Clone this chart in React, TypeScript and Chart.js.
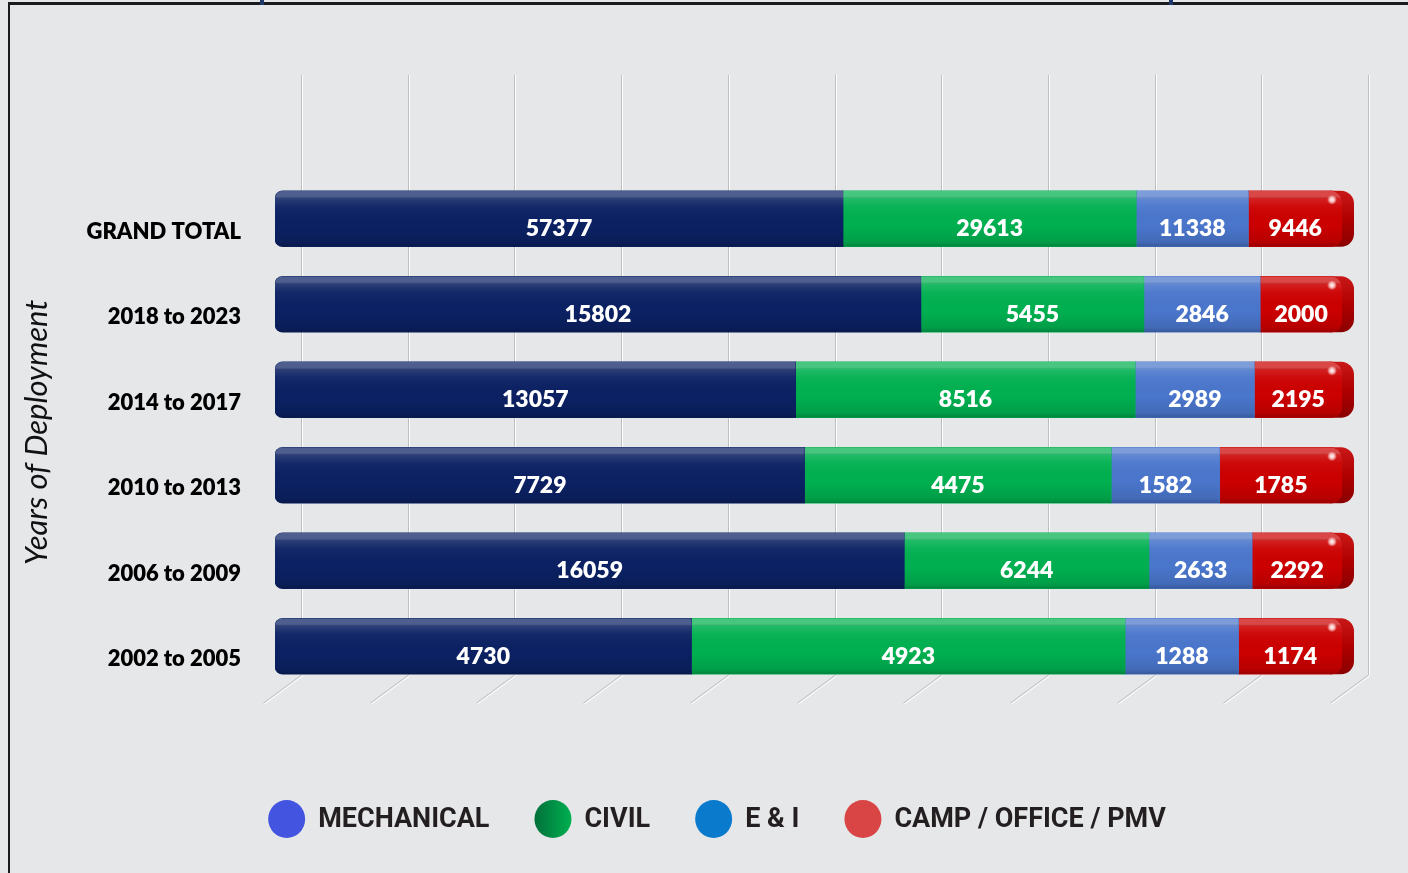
import { useEffect, useRef } from "react";
import { Chart, registerables } from "chart.js";

Chart.register(...registerables);

const categories = ["GRAND TOTAL", "2018 to 2023", "2014 to 2017", "2010 to 2013", "2006 to 2009", "2002 to 2005"];
const mechanical = [57377, 15802, 13057, 7729, 16059, 4730];
const civil = [29613, 5455, 8516, 4475, 6244, 4923];
const eAndI = [11338, 2846, 2989, 1582, 2633, 1288];
const campOffice = [9446, 2000, 2195, 1785, 2292, 1174];
const seriesNames = ["MECHANICAL", "CIVIL", "E & I", "CAMP / OFFICE / PMV"];
const barColors = ["#0b2163", "#00b050", "#4a76cc", "#cc0000"];
const legendColors = ["#4354e0", "#00a14b", "#0a7bcc", "#d94444"];
const gridTicks = [0, 10, 20, 30, 40, 50, 60, 70, 80, 90, 100];
const axisTitle = "Years of Deployment";

const series = [mechanical, civil, eAndI, campOffice];
const totals = categories.map((_, i) => series.reduce((s, arr) => s + arr[i], 0));
const percents = series.map((arr) => arr.map((v, i) => (v / totals[i]) * 100));

const BG = "#e6e7e9";
const TOP_FACE = 7;
const DEPTH_X = 26;

function barBox(el: any) {
  const p = el.getProps(["x", "y", "base", "height"], true);
  const left = Math.min(p.x, p.base);
  const right = Math.max(p.x, p.base);
  const top = p.y - p.height / 2;
  const bottom = p.y + p.height / 2;
  return { left, right, top, bottom, y: p.y };
}

const gridPlugin = {
  id: "gridBack",
  beforeDatasetsDraw(chart: any) {
    const ctx = chart.ctx;
    const xs = chart.scales.x;
    ctx.save();
    gridTicks.forEach((v) => {
      const px = Math.round(xs.getPixelForValue(v) + DEPTH_X) + 0.5;
      ctx.strokeStyle = "#bdbec0";
      ctx.lineWidth = 1;
      ctx.beginPath();
      ctx.moveTo(px, 75);
      ctx.lineTo(px, 675);
      ctx.moveTo(px, 675);
      ctx.lineTo(px - 38, 703);
      ctx.stroke();
      ctx.strokeStyle = "#ffffff";
      ctx.beginPath();
      ctx.moveTo(px + 1, 75);
      ctx.lineTo(px + 1, 675);
      ctx.moveTo(px + 1, 676);
      ctx.lineTo(px - 37, 704);
      ctx.stroke();
    });
    // red end caps (side face)
    const last = chart.getDatasetMeta(series.length - 1);
    last.data.forEach((el: any) => {
      const b = barBox(el);
      const g = ctx.createLinearGradient(0, b.top, 0, b.bottom);
      g.addColorStop(0, "#c81818");
      g.addColorStop(0.5, "#b00000");
      g.addColorStop(1, "#8a0000");
      ctx.fillStyle = g;
      ctx.beginPath();
      ctx.roundRect(b.right - 24, b.top, 36, b.bottom - b.top, 13);
      ctx.fill();
    });
    ctx.restore();
  },
  afterDatasetsDraw(chart: any) {
    const ctx = chart.ctx;
    ctx.save();
    series.forEach((arr, d) => {
      const meta = chart.getDatasetMeta(d);
      meta.data.forEach((el: any, i: number) => {
        const b = barBox(el);
        const radii =
          d === 0 ? [8, 0, 0, 8] : d === series.length - 1 ? [0, 12, 12, 0] : [0, 0, 0, 0];
        ctx.save();
        ctx.beginPath();
        ctx.roundRect(b.left, b.top, b.right - b.left, b.bottom - b.top, radii);
        ctx.clip();
        // top face
        ctx.fillStyle = "rgba(255,255,255,0.28)";
        ctx.fillRect(b.left, b.top, b.right - b.left, TOP_FACE);
        ctx.fillStyle = "rgba(0,0,0,0.08)";
        ctx.fillRect(b.left, b.top + TOP_FACE - 1, b.right - b.left, 1);
        // front shading
        const g = ctx.createLinearGradient(0, b.top + TOP_FACE, 0, b.bottom);
        g.addColorStop(0, "rgba(255,255,255,0.14)");
        g.addColorStop(0.18, "rgba(255,255,255,0.04)");
        g.addColorStop(0.55, "rgba(0,0,0,0)");
        g.addColorStop(0.9, "rgba(0,0,0,0.1)");
        g.addColorStop(1, "rgba(0,0,0,0.25)");
        ctx.fillStyle = g;
        ctx.fillRect(b.left, b.top + TOP_FACE, b.right - b.left, b.bottom - b.top - TOP_FACE);
        ctx.restore();
        if (d === series.length - 1) {
          const rg = ctx.createRadialGradient(b.right - 10, b.top + 9, 0, b.right - 10, b.top + 9, 5);
          rg.addColorStop(0, "rgba(255,255,255,1)");
          rg.addColorStop(0.5, "rgba(255,220,220,0.8)");
          rg.addColorStop(1, "rgba(255,200,200,0)");
          ctx.fillStyle = rg;
          ctx.beginPath();
          ctx.arc(b.right - 10, b.top + 9, 5, 0, Math.PI * 2);
          ctx.fill();
        }
        // value label
        ctx.fillStyle = "#ffffff";
        ctx.font = "800 23px Lato";
        ctx.textAlign = "center";
        ctx.textBaseline = "middle";
        ctx.fillText(String(arr[i]), (b.left + b.right) / 2, b.y + 10);
      });
    });
    ctx.restore();
  },
  afterDraw(chart: any) {
    const ctx = chart.ctx;
    ctx.save();
    // frame
    ctx.fillStyle = "#1b1b1d";
    ctx.fillRect(8, 2, 1400, 3);
    ctx.fillRect(8, 2, 2, 871);
    ctx.fillStyle = "#1f3a6a";
    ctx.fillRect(260, 0, 4, 5);
    ctx.fillRect(1169, 0, 4, 5);
    // legend
    ctx.font = "bold 27px Roboto";
    ctx.textBaseline = "middle";
    ctx.textAlign = "left";
    const D = 37;
    const GAP = 13;
    const ITEM_GAP = 45;
    const widths = seriesNames.map((n) => ctx.measureText(n).width);
    const total = widths.reduce((s, w) => s + D + GAP + w, 0) + ITEM_GAP * (seriesNames.length - 1);
    let x = 717 - total / 2;
    const cy = 819;
    seriesNames.forEach((n, i) => {
      const cx = x + D / 2;
      let fill: any = legendColors[i];
      if (i === 1) {
        const g = ctx.createLinearGradient(cx - D / 2, 0, cx + D / 2, 0);
        g.addColorStop(0, "#00703a");
        g.addColorStop(1, "#00b050");
        fill = g;
      }
      ctx.fillStyle = fill;
      ctx.beginPath();
      ctx.ellipse(cx, cy, D / 2, D / 2 + 0.5, 0, 0, Math.PI * 2);
      ctx.fill();
      ctx.fillStyle = "#231f20";
      ctx.fillText(n, x + D + GAP, cy + 1);
      x += D + GAP + widths[i] + ITEM_GAP;
    });
    ctx.restore();
  },
};

export default function App() {
  const ref = useRef<HTMLCanvasElement>(null);
  useEffect(() => {
    if (!ref.current) return;
    const chart = new Chart(ref.current, {
      type: "bar",
      data: {
        labels: categories,
        datasets: seriesNames.map((name, i) => ({
          label: name,
          data: percents[i],
          backgroundColor: barColors[i],
          borderWidth: 0,
          borderSkipped: false,
          borderRadius:
            i === 0
              ? { topLeft: 8, bottomLeft: 8, topRight: 0, bottomRight: 0 }
              : i === seriesNames.length - 1
              ? { topLeft: 0, bottomLeft: 0, topRight: 12, bottomRight: 12 }
              : 0,
          barThickness: 56,
        })),
      },
      options: {
        indexAxis: "y",
        responsive: false,
        animation: false,
        layout: { padding: { left: 10, right: 66, top: 176, bottom: 184 } },
        plugins: { legend: { display: false }, tooltip: { enabled: false } },
        scales: {
          x: { stacked: true, min: 0, max: 100, display: false },
          y: {
            stacked: true,
            grid: { display: false },
            border: { display: false },
            ticks: {
              font: { family: "Lato", weight: "800", size: 22 },
              color: "#000000",
              padding: 26,
              labelOffset: 13,
            },
            title: {
              display: true,
              text: axisTitle,
              font: { family: "Lato", style: "italic", size: 31 },
              color: "#111111",
              padding: { top: 8, bottom: 0 },
            },
            afterFit: (s: any) => {
              s.width = 265;
            },
          },
        },
      },
      plugins: [gridPlugin],
    } as any);
    return () => chart.destroy();
  }, []);
  return (
    <div style={{ position: "absolute", left: 0, top: 0, width: 1408, height: 873, background: BG }}>
      <canvas ref={ref} width={1408} height={873} style={{ display: "block" }} />
    </div>
  );
}
